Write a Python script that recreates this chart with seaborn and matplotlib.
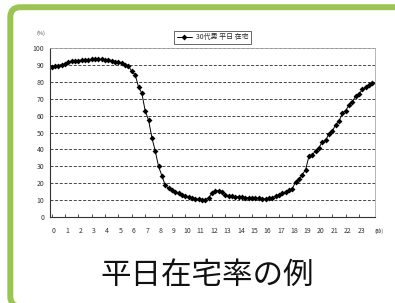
import pandas as pd
import seaborn as sns
import matplotlib.pyplot as plt
from matplotlib.patches import FancyBboxPatch
from matplotlib.transforms import ScaledTranslation

# 15-minute steps, 0:00 .. 24:00
hours = [i * 0.25 for i in range(97)]
rate = [
    89.0, 89.2, 89.6, 90.2, 90.5, 91.8, 92.3, 92.6,
    92.6, 92.8, 93.0, 93.0, 93.2, 93.2, 93.2, 93.2,
    93.1, 93.0, 92.6, 92.0, 91.5, 91.0, 90.2, 89.3,
    86.2, 84.2, 77.0, 73.2, 62.8, 57.4, 47.0, 39.1,
    30.0, 24.4, 18.8, 17.0, 15.8, 15.0, 14.0, 13.2,
    12.5, 11.8, 11.3, 10.8, 10.4, 10.3, 10.3, 11.5,
    14.1, 15.3, 15.6, 14.9, 12.9, 12.6, 12.2, 12.1,
    11.8, 11.8, 11.5, 11.3, 11.2, 11.2, 11.0, 10.7,
    10.6, 11.0, 11.5, 12.3, 13.0, 14.0, 14.9, 15.9,
    16.7, 20.8, 22.3, 25.0, 28.0, 36.0, 36.8, 39.3,
    41.0, 44.5, 45.3, 49.4, 50.8, 54.7, 56.6, 61.5,
    63.0, 66.4, 68.3, 71.6, 72.8, 75.5, 76.7, 78.2,
    79.0,
]
series_name = "30代男 平日 在宅"
hour_ticks = list(range(24))
hour_labels = [str(h) for h in hour_ticks]
y_ticks = list(range(0, 101, 10))
caption = "平日在宅率の例"

df = pd.DataFrame({"時刻": hours, "在宅率": rate})

sns.set_theme(style="white")
plt.rcParams['font.family'] = ['Noto Sans CJK JP', 'DejaVu Sans']

W, H = 395, 303
fig = plt.figure(figsize=(W / 100, H / 100), dpi=100)

# green rounded frame, bottom and right edges run off the image
frame = FancyBboxPatch((10.3 / 100, -0.035), 5.0, (H - 7.2) / 100 + 0.035,
                       boxstyle="round,pad=0,rounding_size=0.1",
                       transform=fig.dpi_scale_trans, fill=False,
                       edgecolor="#9cc454", linewidth=4.3)
fig.patches.append(frame)

ax = fig.add_axes([50 / W, 1 - 217 / H, 325 / W, 169 / H])
sns.lineplot(data=df, x="時刻", y="在宅率", ax=ax, color="black",
             marker="D", markersize=3.0, markeredgewidth=0, linewidth=0.7,
             label=series_name)

ax.set_xlim(-0.12, 24.19)
ax.set_ylim(0, 100)
ax.set_xticks(hour_ticks)
ax.set_xticklabels(hour_labels)
ax.set_yticks(y_ticks)
ax.set_xlabel("")
ax.set_ylabel("")
ax.tick_params(axis="x", direction="in", length=2, width=0.6, colors="#333333",
               labelsize=5, pad=7, bottom=True)
ax.tick_params(axis="y", length=0, labelsize=5, pad=4, colors="#333333")
for lab in ax.get_xticklabels():
    lab.set_transform(lab.get_transform() + ScaledTranslation(2 / 100, 0, fig.dpi_scale_trans))

ax.yaxis.grid(True, linestyle=(0, (3, 1.8)), color="#444444", linewidth=0.7)
ax.xaxis.grid(False)
for side in ["left", "bottom"]:
    ax.spines[side].set_color("#333333")
    ax.spines[side].set_linewidth(0.8)
for side in ["top", "right"]:
    ax.spines[side].set_color("#aaaaaa")
    ax.spines[side].set_linewidth(0.6)

leg = ax.legend(loc="lower center", bbox_to_anchor=(0.5, 1.025), fontsize=5,
                frameon=True, fancybox=False, handlelength=2.2, borderpad=0.35,
                handletextpad=0.5, borderaxespad=0)
leg.get_frame().set_edgecolor("#222222")
leg.get_frame().set_linewidth(0.6)

fig.text(41 / W, 1 - 33 / H, "(%)", fontsize=4, color="#444444", ha="center", va="center")
fig.text(379 / W, 1 - 230.7 / H, "(時)", fontsize=4, color="#444444", ha="center", va="center")
fig.text(207 / W, 1 - 275 / H, caption, fontsize=22, color="#111111", ha="center", va="center")

fig.savefig("out.png", dpi=100)
